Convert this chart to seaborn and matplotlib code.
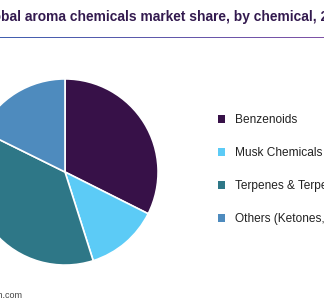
import matplotlib
matplotlib.use("Agg")
import matplotlib.pyplot as plt
import seaborn as sns
import numpy as np
from matplotlib.patches import Patch
from matplotlib.colors import LinearSegmentedColormap

sns.set_theme(style="white")
plt.rcParams['font.family'] = ['Liberation Sans', 'DejaVu Sans']

categories = ["Benzenoids", "Musk Chemicals", "Terpenes & Terpenoids", "Others (Ketones, Aldehydes, etc.)"]
shares = [32.4, 12.7, 37.2, 17.7]
colors = ["#371148", "#5ccbf6", "#2e7787", "#4e8bbe"]
title = "Global aroma chemicals market share, by chemical, 2021 (%)"
source = "Source: www.grandviewresearch.com"

W, H = 324, 300
fig = plt.figure(figsize=(W / 100, H / 100), dpi=100)
fig.patch.set_facecolor("white")

# pie axes: center (65,172) px, radius 94 px
cx, cy, r = 65, 172, 94
ax = fig.add_axes([(cx - r) / W, (H - cy - r) / H, 2 * r / W, 2 * r / H])
wedges, _ = ax.pie(shares, colors=colors, startangle=90, counterclock=False,
                   wedgeprops=dict(edgecolor="white", linewidth=1.2), radius=1)
ax.set_xlim(-1.01, 1.01)
ax.set_ylim(-1.01, 1.01)
ax.set_aspect("equal")
ax.axis("off")

renderer = fig.canvas.get_renderer()

# title, cropped at left
tfs = 9.9
t = fig.text(0, 0, "Glo", fontsize=tfs, fontweight="bold")
wglo = t.get_window_extent(renderer).width
t.remove()
fig.text(-(wglo - 1) / W, 1 - 17.5 / H, title, fontsize=tfs, fontweight="bold",
         color="#331a4f", va="center", ha="left")

# gradient underline
lax = fig.add_axes([0, 1 - 38.5 / H, 1, 2 / H])
grad = np.linspace(0, 1, 256).reshape(1, -1)
cmap = LinearSegmentedColormap.from_list("g", ["#4160b0", "#7f52a6"])
lax.imshow(grad, aspect="auto", cmap=cmap, interpolation="bilinear")
lax.axis("off")

# legend
handles = [Patch(facecolor=c, edgecolor="none") for c in colors]
fig.legend(handles, categories, loc="upper left",
           bbox_to_anchor=(218 / W, 1 - 114 / H), frameon=False,
           fontsize=8.6, handlelength=0.6, handleheight=0.6,
           handletextpad=0.85, labelspacing=1.76, borderaxespad=0,
           borderpad=0, labelcolor="#222222")

# source, cropped at left
s = fig.text(0, 0, source, fontsize=6.5, color="#444444")
ws = s.get_window_extent(renderer).width
s.remove()
fig.text((22 - ws) / W, 1 - 295 / H, source, fontsize=6.5, color="#444444",
         va="center", ha="left")

fig.savefig("out.png", dpi=100)
